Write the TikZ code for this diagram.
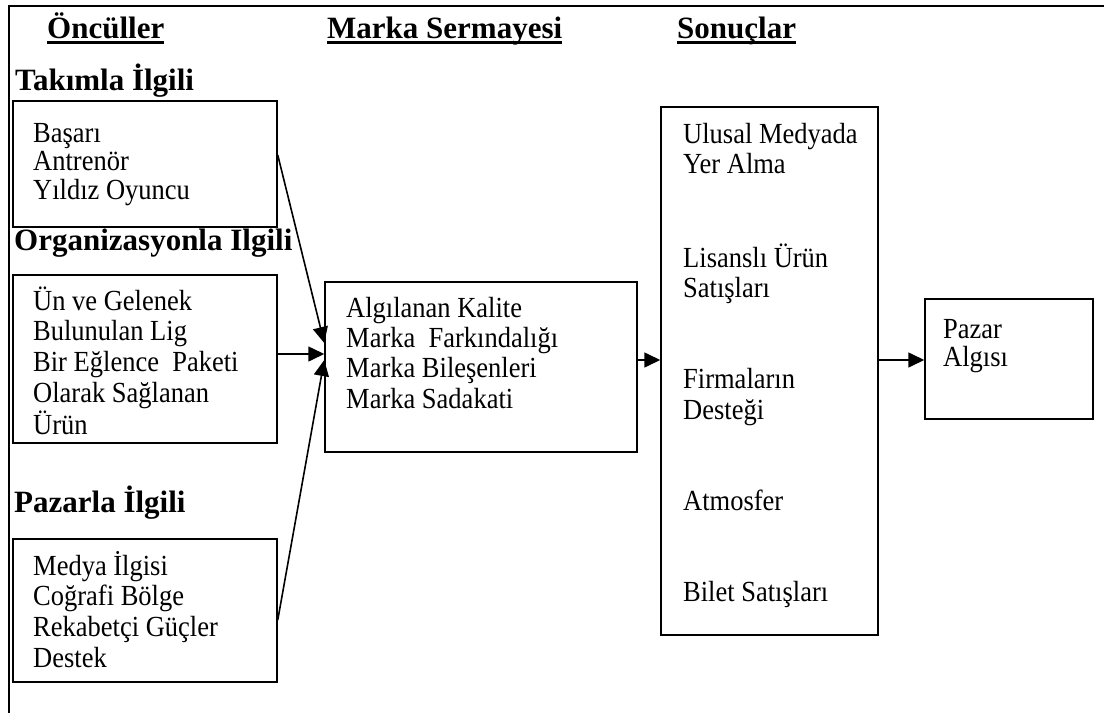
\documentclass[tikz,border=0pt]{standalone}
\usepackage{fontspec}
\usepackage{graphicx}
\setmainfont{Liberation Serif}
\usetikzlibrary{arrows.meta,fit}
% one column of lines, set slightly tall; #1 = line spacing factor
\newcommand\stacklines[2]{\scalebox{1}[1.1]{\renewcommand\arraystretch{#1}\begin{tabular}[t]{@{}l@{}}#2\end{tabular}}}
\begin{document}
\begin{tikzpicture}[x=1pt,y=-1pt,
  frame/.style={line width=2.2pt},
  box/.style={draw, line width=1.5pt, inner sep=0pt},
  txt/.style={anchor=base west, inner sep=0pt, font=\fontsize{26.5}{30.5}\selectfont},
  head/.style={anchor=base west, inner sep=0pt, font=\fontsize{31}{36}\selectfont\bfseries},
  uline/.style={line width=2.2pt},
  conn/.style={line width=1.6pt, -{Triangle[length=16pt,width=15pt]}}]
\useasboundingbox (0,0) rectangle (1104,713);

% outer frame (top and left edges)
\coordinate (fTL) at (9,6);
\coordinate (fTR) at (1104,6);
\coordinate (fBL) at (9,713);
\draw[frame] (fTR) -- (fTL) -- (fBL);

% column headings
\node[head] (hA) at (47,38) {Öncüller};
\node[head] (hB) at (327,38) {Marka Sermayesi};
\node[head] (hC) at (677,38) {Sonuçlar};
\foreach \h in {hA,hB,hC}
  \draw[uline] ([yshift=-4.5pt]\h.base west) -- ([yshift=-4.5pt]\h.base east);

% group headings
\node[head] (gTeam) at (15,90) {Takımla İlgili};
\node[head] (gOrg) at (14,250) {Organizasyonla Ilgili};
\node[head] (gMkt) at (14,512) {Pazarla İlgili};

% boxes
\node[box, fit={(13,101) (277,227)}] (b1) {};
\node[box, fit={(13,275) (277,443)}] (b2) {};
\node[box, fit={(13,539) (277,682)}] (b3) {};
\node[box, fit={(325,282) (637,452)}] (mid) {};
\node[box, fit={(661,107) (878,635)}] (res) {};
\node[box, fit={(925,299) (1093,419)}] (paz) {};

% box texts
\node[txt] (t1) at (33,142) {\stacklines{0.85}{Başarı\\Antrenör\\Yıldız Oyuncu}};
\node[txt] (t2) at (33,310) {\stacklines{0.915}{Ün ve Gelenek\\Bulunulan Lig\\Bir Eğlence\ \ Paketi\\Olarak Sağlanan\\Ürün}};
\node[txt] (t3) at (33,575) {\stacklines{0.914}{Medya İlgisi\\Coğrafi Bölge\\Rekabetçi Güçler\\Destek}};
\node[txt] (tm) at (346,317) {\stacklines{0.905}{Algılanan Kalite\\Marka\ \ Farkındalığı\\Marka Bileşenleri\\Marka Sadakati}};
\node[txt] (tr) at (683,143) {\stacklines{0.907}{Ulusal Medyada\\Yer Alma\\ \\ \\Lisanslı Ürün\\Satışları\\ \\ \\Firmaların\\Desteği\\ \\ \\Atmosfer\\ \\ \\Bilet Satışları}};
\node[txt] (tp) at (943,338) {\stacklines{0.805}{Pazar\\Algısı}};

% connectors
\draw[conn] ([yshift=9pt]b1.east) -- ([yshift=24pt]mid.west);
\draw[conn] ([yshift=5pt]b2.east) -- ([yshift=13pt]mid.west);
\draw[conn] ([yshift=-9.5pt]b3.east) -- ([yshift=7pt]mid.west);
\draw[conn] ([yshift=7pt]mid.east) -- ([yshift=11pt]res.west);
\draw[conn] ([yshift=11pt]res.east) -- ([yshift=-1pt]paz.west);
\end{tikzpicture}
\end{document}
